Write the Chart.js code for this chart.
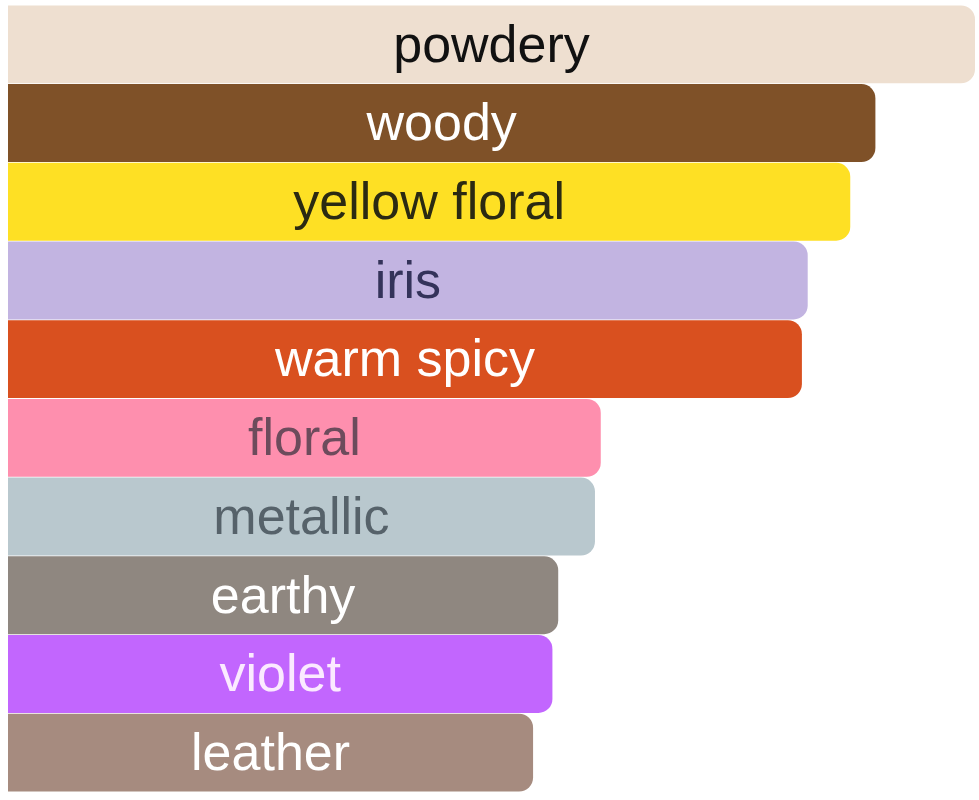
<!DOCTYPE html>
<html>
<head>
<meta charset="utf-8">
<script src="https://cdn.jsdelivr.net/npm/chart.js@4/dist/chart.umd.min.js"></script>
<style>
  html, body { margin:0; padding:0; background:#fff; }
  #wrap { width:979px; height:800px; position:relative; }
</style>
</head>
<body>
<div id="wrap"><canvas id="accords"></canvas></div>
<script>
// accord names, top to bottom
const accords = ['powdery','woody','yellow floral','iris','warm spicy','floral','metallic','earthy','violet','leather'];
// relative strength (% of the strongest accord)
const strength = [100, 89.7, 87.1, 82.7, 82.1, 61.3, 60.7, 56.9, 56.3, 54.3];
const barColors = ['#eedfd0','#7f5128','#fee024','#c2b4e1','#d9501f','#fe8fae','#b9c8ce','#8f8780','#c266fe','#a68b7f'];
const textColors = ['#111111','#ffffff','#2b2a12','#34335a','#ffffff','#6d4b5c','#56626a','#ffffff','#fbeaff','#ffffff'];

const labelPlugin = {
  id: 'barLabels',
  afterDatasetsDraw(chart){
    const ctx = chart.ctx;
    const meta = chart.getDatasetMeta(0);
    ctx.save();
    ctx.font = '52px "Liberation Sans", Arial, sans-serif';
    ctx.textAlign = 'center';
    ctx.textBaseline = 'middle';
    meta.data.forEach((bar, i) => {
      const cx = (bar.base + bar.x) / 2;
      ctx.fillStyle = textColors[i];
      ctx.fillText(accords[i], cx, bar.y + 3);
    });
    ctx.restore();
  }
};

new Chart(document.getElementById('accords'), {
  type: 'bar',
  data: {
    labels: accords,
    datasets: [{
      data: strength,
      backgroundColor: barColors,
      borderWidth: 0,
      borderSkipped: 'start',
      borderRadius: { topLeft:0, bottomLeft:0, topRight:14, bottomRight:14 },
      categoryPercentage: 1,
      barPercentage: 0.99
    }]
  },
  options: {
    indexAxis: 'y',
    responsive: true,
    maintainAspectRatio: false,
    animation: false,
    layout: { padding: { left: 8, right: 4, top: 5, bottom: 8 } },
    plugins: { legend: { display:false }, tooltip: { enabled:false } },
    scales: {
      x: { display:false, min:0, max:100 },
      y: { display:false }
    }
  },
  plugins: [labelPlugin]
});
</script>
</body>
</html>
